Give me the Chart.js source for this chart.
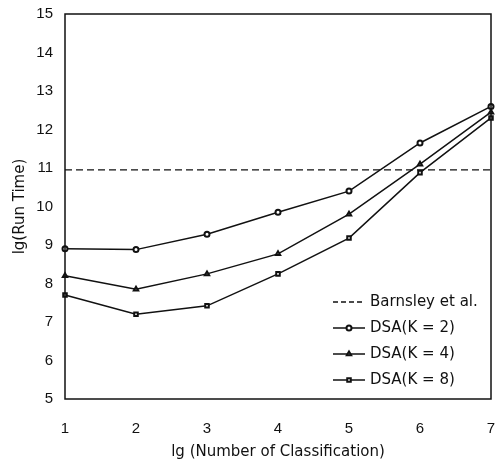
<!DOCTYPE html>
<html>
<head>
<meta charset="utf-8">
<script src="https://cdn.jsdelivr.net/npm/chart.js@4.4.1/dist/chart.umd.min.js"></script>
<style>
  html, body { margin: 0; padding: 0; background: #fff; }
  #wrap { width: 501px; height: 461px; }
</style>
</head>
<body>
<div id="wrap"><canvas id="chart"></canvas></div>
<script>
// values
var classes = [1, 2, 3, 4, 5, 6, 7];
var barnsley = [10.95, 10.95, 10.95, 10.95, 10.95, 10.95, 10.95];
var dsaK2 = [8.9, 8.88, 9.28, 9.85, 10.4, 11.65, 12.6];
var dsaK4 = [8.2, 7.85, 8.25, 8.77, 9.8, 11.1, 12.45];
var dsaK8 = [7.7, 7.2, 7.42, 8.25, 9.18, 10.88, 12.3];
var yTicks = [5, 6, 7, 8, 9, 10, 11, 12, 13, 14, 15];

var tickFont = "'Liberation Sans', Arial, sans-serif";
var textFont = "'DejaVu Sans', sans-serif";

// box round the plot and the legend in the lower right corner
var framePlugin = {
  id: 'frame',
  afterDraw: function(chart) {
    var ctx = chart.ctx, a = chart.chartArea;
    ctx.save();
    ctx.strokeStyle = '#111';
    ctx.lineWidth = 1.5;
    ctx.strokeRect(a.left, a.top, a.right - a.left, a.bottom - a.top);

    var sets = chart.data.datasets;
    var x0 = a.right - 158, x1 = a.right - 126;
    ctx.font = '15px ' + textFont;
    ctx.textBaseline = 'middle';
    ctx.fillStyle = '#111';
    for (var i = 0; i < sets.length; i++) {
      var ds = sets[i];
      var y = a.bottom - 19 - (sets.length - 1 - i) * 26;
      ctx.beginPath();
      ctx.setLineDash(ds.borderDash ? [5, 3] : []);
      ctx.lineWidth = ds.borderWidth;
      ctx.moveTo(x0, y);
      ctx.lineTo(x1, y);
      ctx.stroke();
      ctx.setLineDash([]);
      if (ds.pointRadius > 0) {
        ctx.lineWidth = ds.pointBorderWidth;
        ctx.fillStyle = '#fff';
        Chart.helpers.drawPoint(ctx, {
          pointStyle: ds.pointStyle, radius: ds.pointRadius, borderWidth: ds.pointBorderWidth
        }, (x0 + x1) / 2, y);
        ctx.fillStyle = '#111';
      }
      ctx.fillText(ds.label, x1 + 5, y);
    }
    ctx.restore();
  }
};

function series(label, data, style) {
  return {
    label: label,
    data: data,
    borderColor: '#111',
    backgroundColor: '#fff',
    borderWidth: 1.5,
    pointStyle: style,
    pointRadius: 2.5,
    pointBorderWidth: 2,
    pointBackgroundColor: '#fff',
    pointBorderColor: '#111',
    tension: 0,
    fill: false
  };
}

new Chart(document.getElementById('chart'), {
  type: 'line',
  data: {
    labels: classes,
    datasets: [
      {
        label: 'Barnsley et al.',
        data: barnsley,
        borderColor: '#111',
        borderWidth: 1.3,
        borderDash: [7, 4],
        pointRadius: 0,
        fill: false
      },
      series('DSA(K = 2)', dsaK2, 'circle'),
      series('DSA(K = 4)', dsaK4, 'triangle'),
      series('DSA(K = 8)', dsaK8, 'rect')
    ]
  },
  options: {
    responsive: true,
    maintainAspectRatio: false,
    animation: false,
    layout: { padding: { left: 11, right: 10, top: 14, bottom: 0 } },
    plugins: {
      legend: { display: false },
      tooltip: { enabled: false }
    },
    scales: {
      x: {
        offset: false,
        grid: { display: false },
        border: { display: false },
        ticks: { color: '#111', font: { family: tickFont, size: 15 }, padding: 13 },
        title: {
          display: true,
          text: 'lg (Number of Classification)',
          color: '#111',
          font: { family: textFont, size: 15 },
          padding: { top: 4, bottom: 0 }
        },
        afterFit: function(scale) {
          scale.height = 62;
          scale.paddingLeft = 0;
          scale.paddingRight = 0;
        }
      },
      y: {
        min: 5,
        max: 15,
        grid: { display: false },
        border: { display: false },
        afterBuildTicks: function(scale) {
          scale.ticks = yTicks.map(function(v) { return { value: v }; });
        },
        ticks: { color: '#111', font: { family: tickFont, size: 15 }, padding: 4 },
        title: {
          display: true,
          text: 'lg(Run Time)',
          color: '#111',
          font: { family: textFont, size: 15 },
          padding: { top: 0, bottom: 4 }
        },
        afterFit: function(scale) {
          scale.width = 54;
          scale.paddingTop = 0;
          scale.paddingBottom = 0;
        }
      }
    }
  },
  plugins: [framePlugin]
});
</script>
</body>
</html>
